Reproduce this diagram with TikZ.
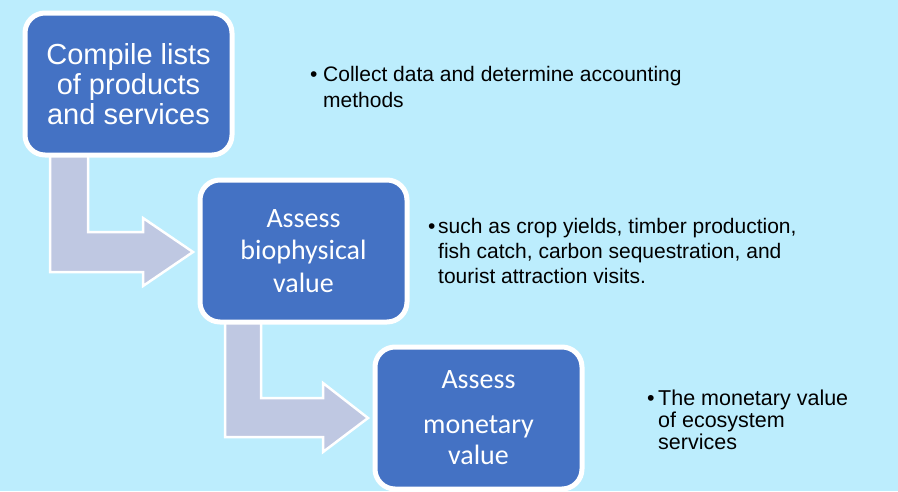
\documentclass[tikz,border=0pt]{standalone}
\usepackage{fontspec}
\setmainfont{Liberation Sans}
\newfontfamily\arialf{Liberation Sans}
\newfontfamily\calibrif{Carlito}
\definecolor{bgc}{HTML}{BCEDFD}
\definecolor{boxblue}{HTML}{4472C4}
\definecolor{arrowc}{HTML}{BFC8E2}
\begin{document}
\begin{tikzpicture}[x=1pt,y=-1pt,
  stepbox/.style={draw=white, line width=5pt, fill=boxblue, rounded corners=20pt,
    minimum width=207pt, minimum height=142pt, inner sep=0pt, text=white, align=center},
  bentarrow/.style={draw=white, line width=2.5pt, fill=arrowc, line join=miter},
  bullettext/.style={anchor=base west, inner sep=0pt, align=left, text=black}]
\fill[bgc] (0,0) rectangle (898,491);
\useasboundingbox (0,0) rectangle (898,491);
% bent arrows (behind boxes)
\draw[bentarrow] (50,150) -- (50,272) -- (143,272) -- (143,286) -- (193,252) -- (143,218) -- (143,232) -- (88,232) -- (88,150) -- cycle;
\draw[bentarrow] (225,318) -- (225,437) -- (323,437) -- (323,452) -- (368,418) -- (323,383) -- (323,398) -- (261,398) -- (261,318) -- cycle;
% boxes
\node[stepbox, font=\arialf\fontsize{29}{30}\selectfont] (b1) at (128.5,84) {Compile lists\\of products\\and services};
\node[stepbox, font=\calibrif\fontsize{28}{32.5}\selectfont] (b2) at (303.5,251) {Assess\\biophysical\\value};
\node[stepbox, font=\calibrif\fontsize{28}{31}\selectfont] (b3) at (478.5,418) {Assess\\[14pt]monetary\\value};
% bullet texts (anchor = baseline of the last line)
\node[bullettext, font=\arialf\fontsize{21}{26}\selectfont] (t1) at (310,107)
  {\makebox[13pt][l]{•}Collect data and determine accounting\\\hspace*{13pt}methods};
\node[bullettext, font=\arialf\fontsize{21}{25}\selectfont] (t2) at (428,283)
  {\makebox[10pt][l]{•}such as crop yields, timber production,\\\hspace*{10pt}fish catch, carbon sequestration, and\\\hspace*{10pt}tourist attraction visits.};
\node[bullettext, font=\arialf\fontsize{21.5}{22}\selectfont] (t3) at (647,449)
  {\makebox[11pt][l]{•}The monetary value\\\hspace*{11pt}of ecosystem\\\hspace*{11pt}services};
\end{tikzpicture}
\end{document}
